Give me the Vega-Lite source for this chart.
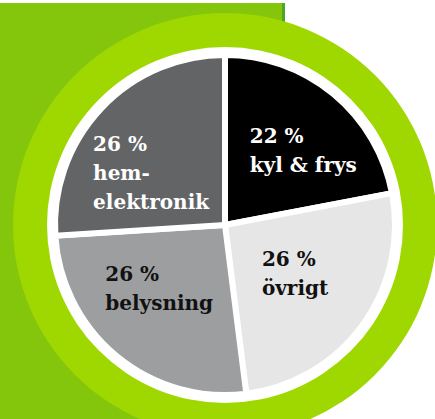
{
  "$schema": "https://vega.github.io/schema/vega-lite/v6.json",
  "autosize": {"type": "fit", "contains": "padding"},
  "width": 435,
  "height": 419,
  "padding": {"left": 0, "top": 0, "right": -15, "bottom": -31},
  "background": "white",
  "view": {
    "stroke": null,
    "fill": {
      "gradient": "linear",
      "x1": 0, "y1": 0, "x2": 1, "y2": 0,
      "stops": [
        {"offset": 0, "color": "#83c60c"},
        {"offset": 0.626, "color": "#83c60c"},
        {"offset": 0.6265, "color": "#4fa52a"},
        {"offset": 0.633, "color": "#4fa52a"},
        {"offset": 0.6335, "color": "#ffffff"},
        {"offset": 1, "color": "#ffffff"}
      ]
    }
  },
  "data": {
    "values": [
      {"kategori": "kyl & frys", "andel": 22, "nr": 1, "etikett": "22 %\nkyl & frys"},
      {"kategori": "övrigt", "andel": 26, "nr": 2, "etikett": "26 %\növrigt"},
      {"kategori": "belysning", "andel": 26, "nr": 3, "etikett": "26 %\nbelysning"},
      {"kategori": "hemelektronik", "andel": 26, "nr": 4, "etikett": "26 %\nhem-\nelektronik"}
    ]
  },
  "layer": [
    {
      "data": {"values": [{"ring": "yttre"}]},
      "mark": {"type": "arc", "radius": 212, "theta": 0, "theta2": 6.2832, "fill": "#9fd700", "stroke": null},
      "encoding": {}
    },
    {
      "data": {"values": [{"ring": "vit"}]},
      "mark": {"type": "arc", "radius": 178, "theta": 0, "theta2": 6.2832, "fill": "#ffffff", "stroke": null},
      "encoding": {}
    },
    {
      "mark": {"type": "arc", "radius": 170, "stroke": "#ffffff", "strokeWidth": 6},
      "encoding": {
        "theta": {"field": "andel", "type": "quantitative", "stack": true},
        "order": {"field": "nr", "type": "quantitative", "sort": "ascending"},
        "color": {
          "field": "kategori",
          "type": "nominal",
          "scale": {
            "domain": ["kyl & frys", "övrigt", "belysning", "hemelektronik"],
            "range": ["#000000", "#e6e6e6", "#9d9ea0", "#636466"]
          },
          "legend": null
        }
      }
    },
    {
      "mark": {"type": "text", "radius": 100, "align": "left", "baseline": "alphabetic", "dx": -39, "dy": -5, "font": "DejaVu Serif", "fontWeight": "bold", "fontSize": 20, "lineHeight": 29, "lineBreak": "\n", "fill": "#ffffff"},
      "encoding": {
        "theta": {"field": "andel", "type": "quantitative", "stack": true},
        "order": {"field": "nr", "type": "quantitative", "sort": "ascending"},
        "text": {"condition": {"test": "datum.kategori === 'kyl & frys'", "field": "etikett"}, "value": ""}
      }
    },
    {
      "mark": {"type": "text", "radius": 100, "align": "left", "baseline": "alphabetic", "dx": -44, "dy": -18, "font": "DejaVu Serif", "fontWeight": "bold", "fontSize": 20, "lineHeight": 29, "lineBreak": "\n", "fill": "#111111"},
      "encoding": {
        "theta": {"field": "andel", "type": "quantitative", "stack": true},
        "order": {"field": "nr", "type": "quantitative", "sort": "ascending"},
        "text": {"condition": {"test": "datum.kategori === 'övrigt'", "field": "etikett"}, "value": ""}
      }
    },
    {
      "mark": {"type": "text", "radius": 100, "align": "left", "baseline": "alphabetic", "dx": -56, "dy": -21, "font": "DejaVu Serif", "fontWeight": "bold", "fontSize": 20, "lineHeight": 29, "lineBreak": "\n", "fill": "#111111"},
      "encoding": {
        "theta": {"field": "andel", "type": "quantitative", "stack": true},
        "order": {"field": "nr", "type": "quantitative", "sort": "ascending"},
        "text": {"condition": {"test": "datum.kategori === 'belysning'", "field": "etikett"}, "value": ""}
      }
    },
    {
      "mark": {"type": "text", "radius": 100, "align": "left", "baseline": "alphabetic", "dx": -59, "dy": -6, "font": "DejaVu Serif", "fontWeight": "bold", "fontSize": 20, "lineHeight": 29, "lineBreak": "\n", "fill": "#ffffff"},
      "encoding": {
        "theta": {"field": "andel", "type": "quantitative", "stack": true},
        "order": {"field": "nr", "type": "quantitative", "sort": "ascending"},
        "text": {"condition": {"test": "datum.kategori === 'hemelektronik'", "field": "etikett"}, "value": ""}
      }
    }
  ]
}
